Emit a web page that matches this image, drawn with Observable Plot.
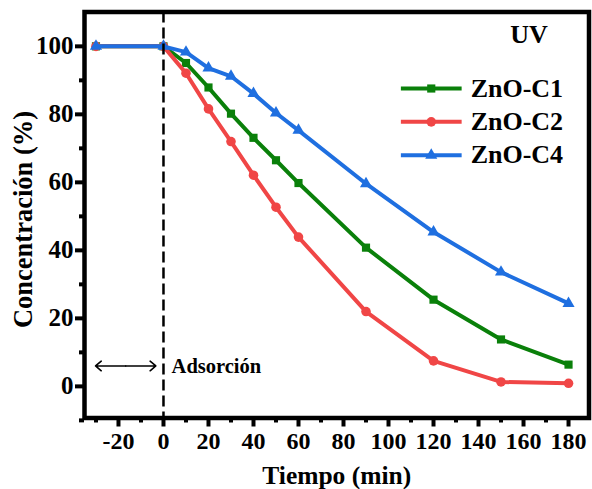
<!DOCTYPE html>
<html>
<head>
<meta charset="utf-8">
<script src="https://cdn.jsdelivr.net/npm/d3@7"></script>
<script src="https://cdn.jsdelivr.net/npm/@observablehq/plot@0.6"></script>
<style>
  html, body { margin: 0; padding: 0; background: #fff; }
</style>
</head>
<body>
<div id="chart"></div>
<script>
const times = [-30, 0, 10, 20, 30, 40, 50, 60, 90, 120, 150, 180];
const c1 = [100, 100, 95.1, 87.9, 80.2, 73.1, 66.5, 59.8, 40.8, 25.5, 13.8, 6.4];
const c2 = [100, 100, 92.1, 81.6, 72.0, 62.1, 52.7, 43.9, 22.0, 7.5, 1.3, 0.9];
const c4 = [100, 100, 98.3, 93.6, 91.2, 86.1, 80.4, 75.3, 59.6, 45.4, 33.6, 24.4];
const seriesNames = ["ZnO-C1", "ZnO-C2", "ZnO-C4"];
const seriesColors = ["#0a800a", "#f04646", "#1f6fe0"];
const seriesSymbols = ["square", "circle", "triangle"];
const xTicks = [-20, 0, 20, 40, 60, 80, 100, 120, 140, 160, 180];
const xMinor = [-30, -10, 10, 30, 50, 70, 90, 110, 130, 150, 170];
const yTicks = [0, 20, 40, 60, 80, 100];
const yMinor = [-10, 10, 30, 50, 70, 90];
const xTitle = "Tiempo (min)";
const yTitle = "Concentración (%)";
const uvLabel = "UV";
const adsLabel = "Adsorción";

const seriesVals = [c1, c2, c4];
const rows = seriesNames.flatMap((s, i) => times.map((t, j) => ({series: s, t, v: seriesVals[i][j]})));

const font = '"Liberation Serif", "Times New Roman", serif';
const symR = [4.6, 4.8, 4.5];
const marks = [];
seriesNames.forEach((s, i) => {
  const d = rows.filter(r => r.series === s);
  marks.push(Plot.line(d, {x: "t", y: "v", stroke: seriesColors[i], strokeWidth: 4}));
  marks.push(Plot.dot(d, {x: "t", y: "v", fill: seriesColors[i], stroke: "none", symbol: seriesSymbols[i], r: symR[i]}));
});
// dashed line at t=0
marks.push(Plot.ruleX([0], {stroke: "#000", strokeWidth: 2.5, strokeDasharray: "11,5"}));
// legend
const legX1 = 105.5, legX2 = 132.5, legXm = 119, legXt = 136.5;
const legY = [87.6, 77.8, 68.0];
seriesNames.forEach((s, i) => {
  marks.push(Plot.link([s], {x1: legX1, x2: legX2, y1: legY[i], y2: legY[i], stroke: seriesColors[i], strokeWidth: 4}));
  marks.push(Plot.dot([s], {x: legXm, y: legY[i], fill: seriesColors[i], symbol: seriesSymbols[i], r: symR[i]}));
  marks.push(Plot.text([s], {x: legXt, y: legY[i], text: d => d, textAnchor: "start", lineAnchor: "middle", fontSize: 26, fontWeight: "bold", fontFamily: font, fill: "#000"}));
});
marks.push(Plot.text([uvLabel], {x: 162.4, y: 103.5, text: d => d, lineAnchor: "middle", fontSize: 26, fontWeight: "bold", fontFamily: font, fill: "#000"}));
// adsorption arrow (two arrows from the middle outward)
const adsMid = -16.8;
marks.push(Plot.arrow([adsLabel], {x1: adsMid, x2: -30.2, y1: 6, y2: 6, stroke: "#000", strokeWidth: 1.6, headLength: 7, headAngle: 80}));
marks.push(Plot.arrow([adsLabel], {x1: adsMid, x2: -3.4, y1: 6, y2: 6, stroke: "#000", strokeWidth: 1.6, headLength: 7, headAngle: 80}));
marks.push(Plot.text([adsLabel], {x: 3.6, y: 6, text: d => d, textAnchor: "start", lineAnchor: "middle", fontSize: 20.5, fontWeight: "bold", fontFamily: font, fill: "#000"}));
// axes
marks.push(Plot.axisX(xTicks, {anchor: "bottom", tickSize: 9, tickPadding: 5, stroke: "#000", strokeWidth: 4, fontSize: 24, fontWeight: "bold", fontFamily: font, fill: "#000", tickFormat: d => String(d), label: null}));
marks.push(Plot.axisX(xMinor, {anchor: "bottom", tickSize: 5, stroke: "#000", strokeWidth: 4, text: null, label: null}));
marks.push(Plot.axisY(yTicks, {anchor: "left", tickSize: 9, tickPadding: 2, stroke: "#000", strokeWidth: 4, fontSize: 25, fontWeight: "bold", fontFamily: font, fill: "#000", tickFormat: d => String(d), label: null}));
marks.push(Plot.axisY(yMinor, {anchor: "left", tickSize: 5, stroke: "#000", strokeWidth: 4, text: null, label: null}));
marks.push(Plot.frame({stroke: "#000", strokeWidth: 4.5}));
marks.push(Plot.text([xTitle], {frameAnchor: "bottom", text: d => d, dy: 58, textAnchor: "middle", lineAnchor: "middle", fontSize: 25.5, fontWeight: "bold", fontFamily: font, fill: "#000"}));
marks.push(Plot.text([yTitle], {frameAnchor: "left", text: d => d, dx: -61, dy: 4.5, rotate: -90, textAnchor: "middle", lineAnchor: "middle", fontSize: 26.5, fontWeight: "bold", fontFamily: font, fill: "#000"}));

const chart = Plot.plot({
  width: 592,
  height: 489,
  marginLeft: 84,
  marginRight: 3.5,
  marginTop: 11.5,
  marginBottom: 71.5,
  x: {domain: [-35.1, 189.1]},
  y: {domain: [-9.3, 110.1]},
  style: {fontFamily: font, fontWeight: "bold", color: "#000", background: "#fff", overflow: "visible"},
  marks
});
document.getElementById("chart").appendChild(chart);
</script>
</body>
</html>
